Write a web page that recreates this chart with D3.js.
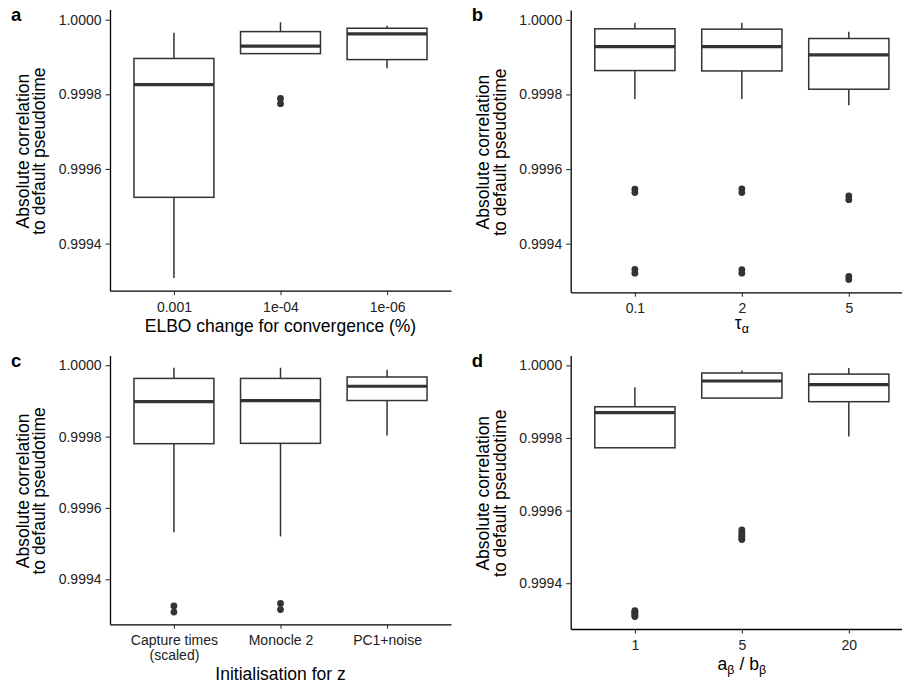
<!DOCTYPE html>
<html>
<head>
<meta charset="utf-8">
<script src="https://cdn.jsdelivr.net/npm/d3@7"></script>
<style>
  body { margin: 0; background: #fff; }
  svg { display: block; font-family: "Liberation Sans", Arial, Helvetica, sans-serif; }
</style>
</head>
<body>
<svg id="fig" width="902" height="686"></svg>
<script>
// ---- data ----
// Box statistics per category: [lower whisker, Q1, median, Q3, upper whisker]
const elboCategories = ["0.001", "1e-04", "1e-06"];
const elboBoxes = [
  [0.999308, 0.999524, 0.999826, 0.999896, 0.999965],
  [0.999908, 0.999909, 0.999929, 0.999968, 0.999993],
  [0.999870, 0.999893, 0.999962, 0.999977, 0.999984]
];
const elboOutliers = [[], [0.999789, 0.999775], []];

const tauCategories = ["0.1", "2", "5"];
const tauBoxes = [
  [0.999788, 0.999864, 0.999928, 0.999976, 0.999992],
  [0.999788, 0.999863, 0.999928, 0.999975, 0.999992],
  [0.999771, 0.999814, 0.999906, 0.999950, 0.999968]
];
const tauOutliers = [
  [0.999546, 0.999537, 0.999331, 0.999321],
  [0.999547, 0.999537, 0.999330, 0.999321],
  [0.999528, 0.999518, 0.999312, 0.999304]
];

const initCategories = ["Capture times\n(scaled)", "Monocle 2", "PC1+noise"];
const initBoxes = [
  [0.999532, 0.999780, 0.999898, 0.999963, 0.999993],
  [0.999520, 0.999781, 0.999901, 0.999963, 0.999993],
  [0.999803, 0.999901, 0.999941, 0.999967, 0.999987]
];
const initOutliers = [[0.999325, 0.999308], [0.999332, 0.999315], []];

const ratioCategories = ["1", "5", "20"];
const ratioBoxes = [
  [0.999773, 0.999773, 0.999870, 0.999886, 0.999940],
  [0.999910, 0.999910, 0.999957, 0.999979, 0.999986],
  [0.999804, 0.999900, 0.999947, 0.999976, 0.999993]
];
const ratioOutliers = [
  [0.999324, 0.999321, 0.999318, 0.999315, 0.999311, 0.999308],
  [0.999547, 0.999541, 0.999535, 0.999529, 0.999524, 0.999520],
  []
];

const yTicks = [0.9994, 0.9996, 0.9998, 1.0000];
const yTitleLines = ["Absolute correlation", "to default pseudotime"];

// ---- styling ----
const INK = "#333333";
const TICK_TEXT = "#222222";

const svg = d3.select("#fig");
svg.append("rect").attr("width", 902).attr("height", 686).attr("fill", "#fff");

const panels = [
  { letter: "a", categories: elboCategories, boxes: elboBoxes, outliers: elboOutliers,
    frame: { x0: 110, x1: 451, y0: 9.5, y1: 290.7 },
    title: [{ t: "ELBO change for convergence (%)" }], titleY: 331.7 },
  { letter: "b", categories: tauCategories, boxes: tauBoxes, outliers: tauOutliers,
    frame: { x0: 570.7, x1: 913, y0: 10, y1: 292.3 },
    title: [{ t: "\u03C4" }, { t: "\u03B1", sub: true }], titleY: 329 },
  { letter: "c", categories: initCategories, boxes: initBoxes, outliers: initOutliers,
    frame: { x0: 110, x1: 451, y0: 355.5, y1: 624.3 },
    title: [{ t: "Initialisation for z" }], titleY: 680 },
  { letter: "d", categories: ratioCategories, boxes: ratioBoxes, outliers: ratioOutliers,
    frame: { x0: 570.7, x1: 913, y0: 355.5, y1: 629 },
    title: [{ t: "a" }, { t: "\u03B2", sub: true }, { t: " / b" }, { t: "\u03B2", sub: true }], titleY: 670 }
];

panels.forEach(drawPanel);

function drawPanel(p) {
  const { x0, x1, y0, y1 } = p.frame;
  const g = svg.append("g");

  // y range: data extent plus 5% on each side
  const values = p.boxes.flat().concat(p.outliers.flat());
  const [lo, hi] = d3.extent(values);
  const pad = (hi - lo) * 0.05;
  const y = d3.scaleLinear().domain([lo - pad, hi + pad]).range([y1, y0]);
  const x = d3.scalePoint().domain(p.categories).range([x0, x1]).padding(0.6);
  const bw = x.step() * 0.75;

  p.categories.forEach((c, i) => {
    const [wLo, q1, med, q3, wHi] = p.boxes[i];
    const cx = x(c);
    const box = g.append("g");
    // whiskers
    box.append("line").attr("x1", cx).attr("x2", cx).attr("y1", y(q3)).attr("y2", y(wHi))
      .attr("stroke", INK).attr("stroke-width", 1.5);
    box.append("line").attr("x1", cx).attr("x2", cx).attr("y1", y(q1)).attr("y2", y(wLo))
      .attr("stroke", INK).attr("stroke-width", 1.5);
    // hinge box
    box.append("rect").attr("x", cx - bw / 2).attr("width", bw)
      .attr("y", y(q3)).attr("height", y(q1) - y(q3))
      .attr("fill", "#fff").attr("stroke", INK).attr("stroke-width", 1.5);
    // median
    box.append("line").attr("x1", cx - bw / 2).attr("x2", cx + bw / 2)
      .attr("y1", y(med)).attr("y2", y(med))
      .attr("stroke", INK).attr("stroke-width", 3.2);
    // outliers
    box.selectAll("circle").data(p.outliers[i]).join("circle")
      .attr("cx", cx).attr("cy", d => y(d)).attr("r", 3.4).attr("fill", INK);
  });

  // y axis
  const ya = g.append("g").attr("transform", `translate(${x0},0)`)
    .call(d3.axisLeft(y).tickValues(yTicks).tickFormat(d3.format(".4f"))
      .tickSize(4.5).tickPadding(4).tickSizeOuter(0));
  styleAxis(ya);

  // x axis
  const xa = g.append("g").attr("transform", `translate(0,${y1})`)
    .call(d3.axisBottom(x).tickSize(4.5).tickPadding(6.5).tickSizeOuter(0));
  styleAxis(xa);
  xa.selectAll(".tick text").each(function (d) {
    const lines = String(d).split("\n");
    if (lines.length > 1) {
      const t = d3.select(this).text(null);
      lines.forEach((ln, k) => {
        t.append("tspan").attr("x", 0).attr("dy", k === 0 ? "0.71em" : 15).text(ln);
      });
      t.attr("dy", null);
    }
  });

  // x axis title (with optional subscripts)
  const xt = g.append("text")
    .attr("x", (x0 + Math.min(x1, 913)) / 2).attr("y", p.titleY)
    .attr("text-anchor", "middle").attr("font-size", 17.5).attr("fill", "#000");
  let shifted = false;
  p.title.forEach(part => {
    const ts = xt.append("tspan").text(part.t);
    if (part.sub) {
      ts.attr("font-size", 12.5);
      if (!shifted) { ts.attr("dy", 4); shifted = true; }
    } else if (shifted) {
      ts.attr("dy", -4); shifted = false;
    }
  });

  // y axis title (two lines)
  const yt = g.append("text")
    .attr("transform", `translate(${x0 - 81.5},${(y0 + y1) / 2 + 1}) rotate(-90)`)
    .attr("text-anchor", "middle").attr("font-size", 17.5).attr("fill", "#000");
  yTitleLines.forEach((ln, k) => {
    yt.append("tspan").attr("x", 0).attr("dy", k === 0 ? 0 : 16.5).text(ln);
  });

  // panel letter
  g.append("text").attr("x", x0 - 99).attr("y", y0 + 11)
    .attr("font-size", 18.5).attr("font-weight", "bold").attr("fill", "#000")
    .text(p.letter);
}

function styleAxis(sel) {
  sel.attr("font-family", null).attr("font-size", null);
  sel.select(".domain").attr("stroke", "#000").attr("stroke-width", 1.3);
  sel.selectAll(".tick line").attr("stroke", INK).attr("stroke-width", 1.1);
  sel.selectAll(".tick text").attr("font-size", 14).attr("fill", TICK_TEXT);
}
</script>
</body>
</html>
